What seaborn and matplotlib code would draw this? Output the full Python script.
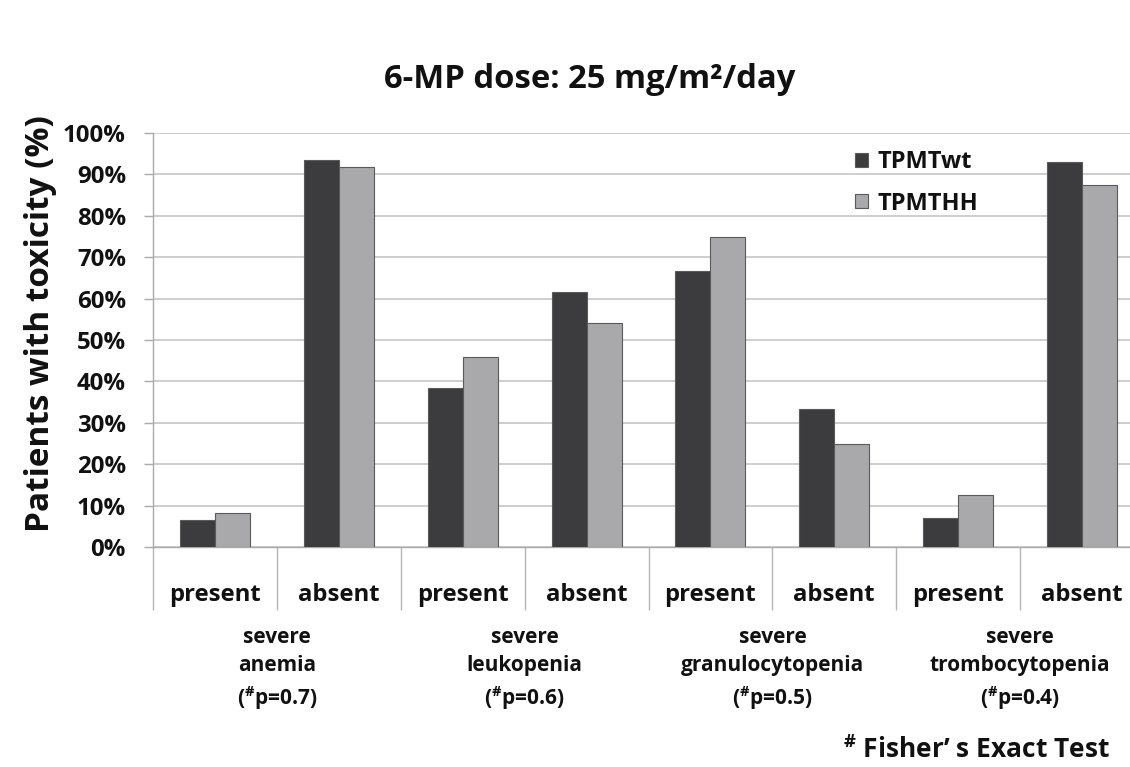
import matplotlib
matplotlib.use("Agg")
import matplotlib.pyplot as plt
import matplotlib.transforms as mtransforms
import seaborn as sns
import pandas as pd
import numpy as np

# ---- data ----
bar_keys = ["anemia_present", "anemia_absent", "leuko_present", "leuko_absent",
            "granulo_present", "granulo_absent", "trombo_present", "trombo_absent"]
bar_labels = ["present", "absent", "present", "absent",
              "present", "absent", "present", "absent"]
tpmt_wt = [6.5, 93.5, 38.5, 61.5, 66.7, 33.3, 7.1, 92.9]
tpmt_hh = [8.3, 91.7, 45.8, 54.2, 75.0, 25.0, 12.5, 87.5]
series_names = ["TPMTwt", "TPMTHH"]
group_labels = ["severe\nanemia\n(${}^{\\#}$p=0.7)",
                "severe\nleukopenia\n(${}^{\\#}$p=0.6)",
                "severe\ngranulocytopenia\n(${}^{\\#}$p=0.5)",
                "severe\ntrombocytopenia\n(${}^{\\#}$p=0.4)"]
y_ticks = [0, 10, 20, 30, 40, 50, 60, 70, 80, 90, 100]
y_tick_labels = ["0%", "10%", "20%", "30%", "40%", "50%", "60%", "70%", "80%", "90%", "100%"]
title = "6-MP dose: 25 mg/m²/day"
y_label = "Patients with toxicity (%)"
note = "${}^{\\#}$ Fisher’ s Exact Test"

df = pd.DataFrame({
    "cat": bar_keys * 2,
    "genotype": [series_names[0]] * len(bar_keys) + [series_names[1]] * len(bar_keys),
    "value": tpmt_wt + tpmt_hh,
})

FONT = "Open Sans"
sns.set_style("white")
plt.rcParams["font.family"] = [FONT, "DejaVu Sans"]
plt.rcParams["font.weight"] = "bold"
plt.rcParams["mathtext.fontset"] = "custom"
plt.rcParams["mathtext.rm"] = FONT + ":bold"
plt.rcParams["mathtext.it"] = FONT + ":bold"
plt.rcParams["mathtext.bf"] = FONT + ":bold"

dark = "#3b3b3f"
light = "#a9a9ab"
grid_c = "#c6c6c6"
text_c = "#111111"

fig = plt.figure(figsize=(11.30, 7.67), dpi=100)
fig.patch.set_facecolor("white")
ax = fig.add_axes([153 / 1130, 1 - 547 / 767, 991 / 1130, 414 / 767])

sns.barplot(data=df, x="cat", y="value", hue="genotype", order=bar_keys,
            hue_order=series_names, palette=[dark, light], width=0.565, gap=0,
            edgecolor="#5a5a5a", linewidth=0.8, ax=ax, zorder=3)

ax.set_xlim(-0.5, 7.5)
ax.set_ylim(0, 100)
ax.set_yticks(y_ticks)
ax.set_yticklabels(y_tick_labels, fontsize=17.3, fontweight="bold", color=text_c)
ax.yaxis.grid(True, color=grid_c, linewidth=1.2, zorder=0)
ax.set_axisbelow(True)
ax.tick_params(axis="y", length=6.5, width=1, color="#aaaaaa", left=True, pad=13)

ax.set_xticks(range(len(bar_keys)))
ax.set_xticklabels(bar_labels, fontsize=17.2, fontweight="bold", color=text_c)
ax.tick_params(axis="x", which="major", length=0, pad=26)
ax.set_xticks(np.arange(-0.5, len(bar_keys)), minor=True)
ax.tick_params(axis="x", which="minor", length=45, width=1, color="#b5b5b5", bottom=True)
ax.set_xlabel("")
ax.set_ylabel("")

for s in ["top", "right"]:
    ax.spines[s].set_visible(False)
ax.spines["left"].set_color("#aaaaaa")
ax.spines["bottom"].set_color("#aaaaaa")
ax.spines["left"].set_linewidth(1)
ax.spines["bottom"].set_linewidth(1)

# legend
handles, labels = ax.get_legend_handles_labels()
leg = ax.legend(handles, labels, loc="upper left", bbox_to_anchor=(855 / 1130, 1 - 150 / 767),
                bbox_transform=fig.transFigure, frameon=False, fontsize=17,
                handlelength=0.55, handleheight=0.55, handletextpad=0.4, labelspacing=0.75,
                borderaxespad=0, borderpad=0)
for t in leg.get_texts():
    t.set_fontweight("bold")
    t.set_color(text_c)

# group labels
trans = mtransforms.blended_transform_factory(ax.transData, fig.transFigure)
for i, g in enumerate(group_labels):
    ax.text(2 * i + 0.5, 1 - 627 / 767, g, transform=trans, ha="center", va="top",
            fontsize=15, fontweight="bold", color=text_c, linespacing=1.42)

fig.text(590 / 1130, 1 - 80 / 767, title, ha="center", va="center",
         fontsize=23.6, fontweight="bold", color=text_c)
fig.text(41 / 1130, 1 - 324 / 767, y_label, ha="center", va="center", rotation=90,
         fontsize=24, fontweight="bold", color=text_c)
fig.text(1110 / 1130, 1 - 750 / 767, note, ha="right", va="center",
         fontsize=19, fontweight="bold", color=text_c)

fig.savefig("out.png", dpi=100)
